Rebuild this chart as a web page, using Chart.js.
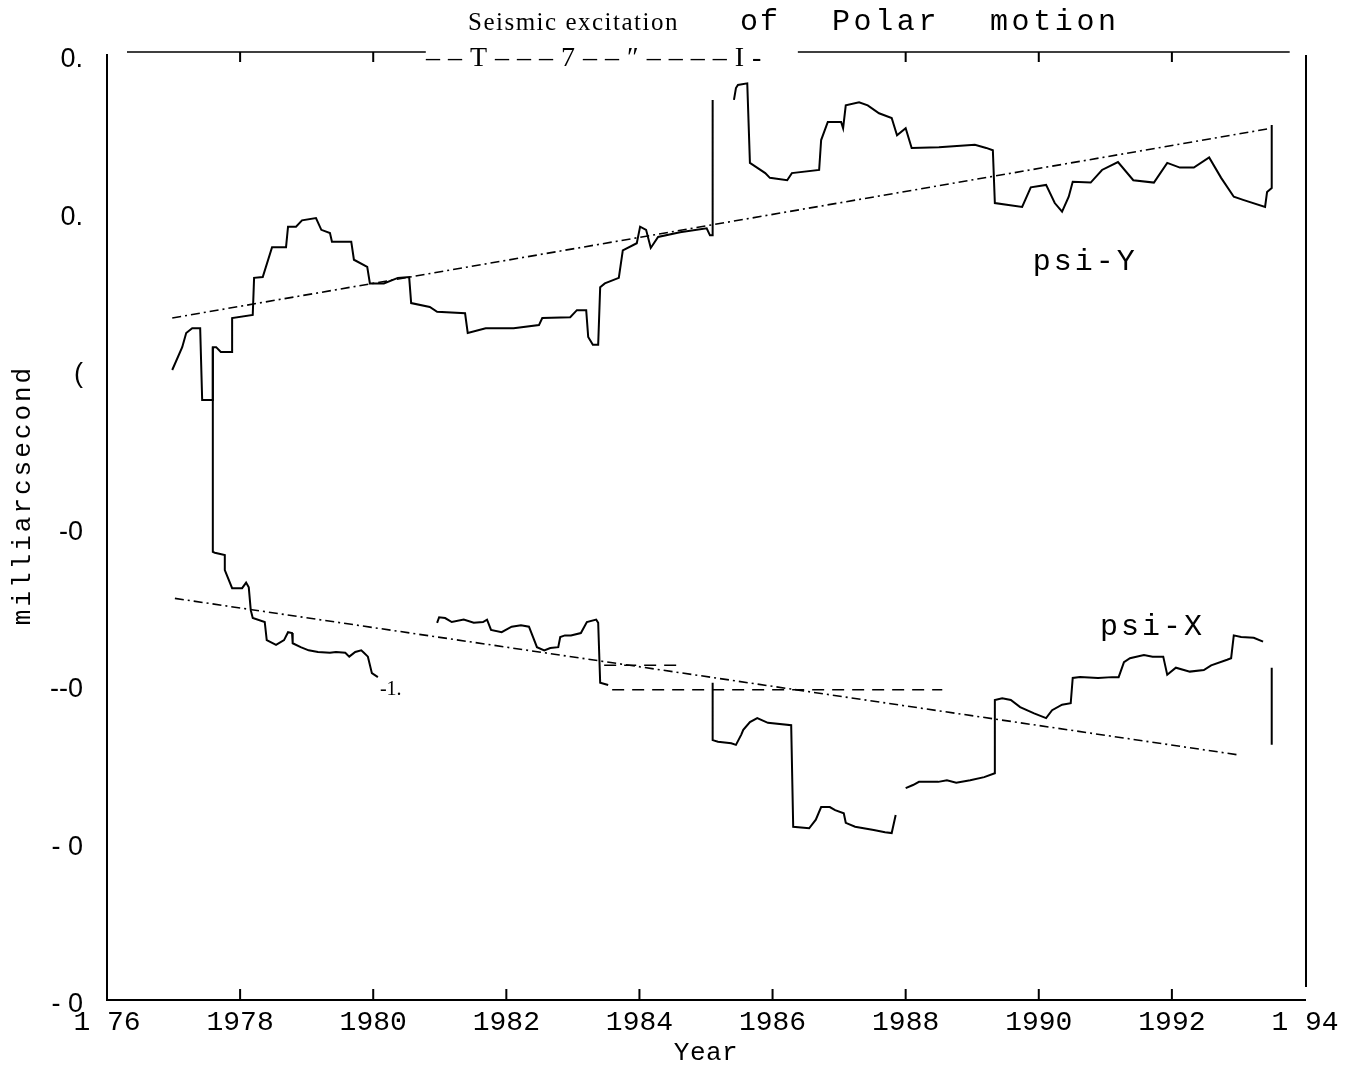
<!DOCTYPE html>
<html>
<head>
<meta charset="utf-8">
<title>Seismic excitation of Polar motion</title>
<script src="https://cdn.jsdelivr.net/npm/chart.js@4.4.1/dist/chart.umd.min.js"></script>
<style>
  html, body { margin: 0; padding: 0; background: #fff; }
  #wrap { width: 1364px; height: 1071px; }
</style>
</head>
<body>
<div id="wrap"><canvas id="polar" width="1364" height="1071"></canvas></div>
<script>
// tick labels as printed on the scan (partly garbled)
const xTickLabels = ['1 76', '1978', '1980', '1982', '1984', '1986', '1988', '1990', '1992', '1 94'];
const yTickLabels = ['0.', '0.', '(', '-0', '--0', '- 0', '- 0'];   // 0.4 down to -0.8

// psi-Y step curve (year, mas); null = pen lifted
const psiYYears = [
  1976.98, 1977.13, 1977.19, 1977.28, 1977.40, 1977.43, 1977.50, 1977.58, 1977.59, 1977.64,
  1977.71, 1977.88, 1977.88, 1978.19, 1978.21, 1978.34, 1978.48, 1978.69, 1978.72, 1978.84,
  1978.93, 1979.14, 1979.22, 1979.35, 1979.38, 1979.67, 1979.71, 1979.91, 1979.95, 1980.16,
  1980.37, 1980.54, 1980.57, 1980.85, 1980.96, 1981.38, 1981.42, 1981.69, 1982.11, 1982.49,
  1982.54, 1982.96, 1983.06, 1983.20, 1983.23, 1983.30, 1983.38, 1983.41, 1983.48, 1983.69,
  1983.75, 1983.96, 1984.01, 1984.10, 1984.17, 1984.28, 1984.61, 1985.01, 1985.06, 1985.10,
  1985.10, 1985.25, 1985.42, 1985.45, 1985.48, 1985.62, 1985.66, 1985.75, 1985.89, 1985.96,
  1986.22, 1986.29, 1986.70, 1986.73, 1986.83, 1987.03, 1987.06, 1987.10, 1987.30, 1987.43,
  1987.60, 1987.79, 1987.87, 1988.00, 1988.09, 1988.50, 1989.04, 1989.21, 1989.31, 1989.34,
  1989.75, 1989.88, 1990.11, 1990.24, 1990.35, 1990.45, 1990.51, 1990.78, 1990.95, 1991.19,
  1991.42, 1991.73, 1991.93, 1992.12, 1992.33, 1992.56, 1992.74, 1992.93, 1993.07, 1993.40,
  1993.43, 1993.50, 1993.50
];
const psiYValues = [
  0.000, 0.029, 0.047, 0.053, 0.053, -0.038, -0.038, -0.038, 0.029, 0.029,
  0.023, 0.023, 0.066, 0.070, 0.117, 0.118, 0.156, 0.156, 0.182, 0.182,
  0.190, 0.193, 0.178, 0.174, 0.163, 0.163, 0.140, 0.131, 0.110, 0.110,
  0.117, 0.118, 0.085, 0.080, 0.074, 0.072, 0.047, 0.053, 0.053, 0.057,
  0.066, 0.067, 0.076, 0.076, 0.042, 0.032, 0.032, 0.105, 0.110, 0.117,
  0.152, 0.161, 0.182, 0.178, 0.155, 0.169, 0.175, 0.180, 0.171, 0.171,
  0.343, null, 0.343, 0.358, 0.362, 0.364, 0.263, 0.258, 0.250, 0.244,
  0.241, 0.250, 0.254, 0.292, 0.315, 0.315, 0.307, 0.336, 0.340, 0.336,
  0.326, 0.320, 0.298, 0.307, 0.282, 0.283, 0.286, 0.282, 0.279, 0.212,
  0.207, 0.232, 0.235, 0.212, 0.201, 0.220, 0.239, 0.238, 0.254, 0.264,
  0.241, 0.238, 0.263, 0.257, 0.257, 0.270, 0.244, 0.220, 0.216, 0.207,
  0.226, 0.231, 0.311
];

// psi-X step curve
const psiXYears = [
  1977.59, 1977.59, 1977.62, 1977.77, 1977.77, 1977.88, 1978.03, 1978.09, 1978.13, 1978.16,
  1978.19, 1978.37, 1978.40, 1978.54, 1978.66, 1978.72, 1978.78, 1978.79, 1978.91, 1979.03,
  1979.17, 1979.35, 1979.44, 1979.58, 1979.64, 1979.73, 1979.82, 1979.86, 1979.92, 1979.98,
  1980.07, 1980.50, 1980.96, 1980.99, 1981.08, 1981.18, 1981.36, 1981.51, 1981.65, 1981.71,
  1981.77, 1981.93, 1982.08, 1982.22, 1982.34, 1982.40, 1982.46, 1982.57, 1982.66, 1982.78,
  1982.81, 1982.88, 1982.97, 1983.12, 1983.21, 1983.35, 1983.38, 1983.41, 1983.53, 1984.30,
  1985.10, 1985.10, 1985.18, 1985.38, 1985.45, 1985.53, 1985.56, 1985.66, 1985.77, 1985.93,
  1986.28, 1986.31, 1986.55, 1986.65, 1986.73, 1986.86, 1986.94, 1987.07, 1987.10, 1987.24,
  1987.52, 1987.69, 1987.79, 1987.85, 1987.92, 1988.00, 1988.11, 1988.20, 1988.49, 1988.62,
  1988.76, 1988.97, 1989.18, 1989.34, 1989.34, 1989.45, 1989.58, 1989.72, 1989.93, 1990.11,
  1990.20, 1990.35, 1990.48, 1990.51, 1990.62, 1990.89, 1991.10, 1991.20, 1991.28, 1991.37,
  1991.58, 1991.71, 1991.87, 1991.93, 1992.06, 1992.27, 1992.48, 1992.59, 1992.83, 1992.89,
  1992.93, 1993.04, 1993.23, 1993.37
];
const psiXValues = [
  0.029, -0.231, -0.232, -0.235, -0.254, -0.277, -0.277, -0.270, -0.276, -0.305,
  -0.315, -0.320, -0.343, -0.349, -0.343, -0.333, -0.334, -0.347, -0.352, -0.356,
  -0.358, -0.359, -0.358, -0.359, -0.364, -0.358, -0.356, -0.359, -0.364, -0.385,
  -0.390, null, -0.321, -0.314, -0.315, -0.320, -0.317, -0.321, -0.320, -0.317,
  -0.330, -0.333, -0.326, -0.324, -0.326, -0.339, -0.352, -0.356, -0.353, -0.352,
  -0.339, -0.337, -0.337, -0.334, -0.320, -0.317, -0.321, -0.397, -0.400, null,
  -0.397, -0.470, -0.472, -0.474, -0.476, -0.463, -0.457, -0.447, -0.442, -0.448,
  -0.451, -0.580, -0.582, -0.571, -0.555, -0.555, -0.559, -0.563, -0.575, -0.580,
  -0.584, -0.587, -0.588, -0.565, null, -0.531, -0.527, -0.523, -0.523, -0.521,
  -0.524, -0.521, -0.517, -0.512, -0.419, -0.417, -0.419, -0.428, -0.436, -0.442,
  -0.432, -0.425, -0.423, -0.391, -0.390, -0.391, -0.390, -0.390, -0.371, -0.366,
  -0.362, -0.364, -0.364, -0.387, -0.378, -0.383, -0.381, -0.375, -0.368, -0.366,
  -0.337, -0.339, -0.340, -0.345
];

// fitted trends (dash-dot)
const trendYYears = [1976.98, 1993.50];
const trendYValues = [0.066, 0.307];
const trendXYears = [1977.02, 1993.02];
const trendXValues = [-0.290, -0.489];

// broken dashed pieces near 1984-1988 and the end marker
const dashAYears = [1983.47, 1984.67];
const dashAValues = [-0.375, -0.375];
const dashBYears = [1983.59, 1988.55];
const dashBValues = [-0.406, -0.406];
const markYears = [1993.50, 1993.50];
const markValues = [-0.378, -0.476];

// in-plot labels
const labelTexts = ['psi-Y', 'psi-X', '-1.'];
const labelYears = [1989.91, 1990.92, 1980.10];
const labelValues = [0.137, -0.326, -0.406];

const pts = (xs, ys) => xs.map((x, i) => ({ x: x, y: ys[i] }));

const MONO = '"Liberation Mono", "DejaVu Sans Mono", monospace';
const SERIF = '"Liberation Serif", "DejaVu Serif", serif';
const SANS = '"Liberation Sans", Arial, sans-serif';

const framePlugin = {
  id: 'frame',
  afterDraw(chart) {
    const { ctx, chartArea: a, scales: { x, y } } = chart;
    ctx.save();
    ctx.strokeStyle = '#000';
    ctx.fillStyle = '#000';

    // top edge, broken where the printer garbled it
    const topY = a.top - 3;
    ctx.lineWidth = 1.5;
    ctx.beginPath();
    ctx.moveTo(x.getPixelForValue(1976.3), topY);
    ctx.lineTo(x.getPixelForValue(1980.79), topY);
    ctx.moveTo(x.getPixelForValue(1986.38), topY);
    ctx.lineTo(x.getPixelForValue(1993.77), topY);
    ctx.stroke();

    // right edge
    ctx.lineWidth = 2;
    ctx.beginPath();
    ctx.moveTo(a.right + 1, a.top);
    ctx.lineTo(a.right + 1, a.bottom - 13);
    ctx.stroke();

    // inward ticks
    ctx.beginPath();
    x.ticks.forEach(t => {
      if (t.value <= 1976 || t.value >= 1994) return;
      const px = x.getPixelForValue(t.value);
      ctx.moveTo(px, a.bottom);
      ctx.lineTo(px, a.bottom - 11);
      if (t.value < 1981 || t.value > 1986.5) {
        ctx.moveTo(px, topY);
        ctx.lineTo(px, topY + 10);
      }
    });
    ctx.stroke();

    // garbled glyphs on the top edge
    ctx.font = '28px ' + SERIF;
    ctx.letterSpacing = '8px';
    ctx.textAlign = 'left';
    ctx.textBaseline = 'alphabetic';
    ctx.fillText('––T–––7––″––––I-', 426, 66);

    // title
    ctx.font = '25px ' + SERIF;
    ctx.letterSpacing = '1.5px';
    ctx.fillText('Seismic excitation', 468, 30);
    ctx.font = '30px ' + MONO;
    ctx.letterSpacing = '2px';
    ctx.fillText('of', 740, 30);
    ctx.letterSpacing = '3.6px';
    ctx.fillText('Polar', 832, 30);
    ctx.fillText('motion', 990, 30);

    // axis titles
    ctx.font = '26px ' + MONO;
    ctx.letterSpacing = '0.5px';
    ctx.textAlign = 'center';
    ctx.fillText('Year', (a.left + a.right) / 2, 1060);
    ctx.save();
    ctx.translate(30, 495);
    ctx.rotate(-Math.PI / 2);
    ctx.letterSpacing = '3px';
    ctx.fillText('milliarcsecond', 0, 0);
    ctx.restore();

    // curve labels
    ctx.textAlign = 'left';
    ctx.textBaseline = 'middle';
    labelTexts.forEach((txt, i) => {
      if (txt === '-1.') {
        ctx.font = '20px ' + SERIF;
        ctx.letterSpacing = '0px';
      } else {
        ctx.font = '30px ' + MONO;
        ctx.letterSpacing = '3px';
      }
      ctx.fillText(txt, x.getPixelForValue(labelYears[i]), y.getPixelForValue(labelValues[i]));
    });
    ctx.restore();
  }
};

const solid = { borderColor: '#000', borderWidth: 2, pointRadius: 0, tension: 0, spanGaps: false, fill: false };
const dashDot = { borderColor: '#000', borderWidth: 1.6, pointRadius: 0, tension: 0, fill: false, borderDash: [9, 4, 2, 4] };
const dashed = { borderColor: '#000', borderWidth: 1.5, pointRadius: 0, tension: 0, fill: false, borderDash: [12, 8] };

new Chart(document.getElementById('polar'), {
  type: 'line',
  data: {
    datasets: [
      Object.assign({ label: 'psi-Y', data: pts(psiYYears, psiYValues) }, solid),
      Object.assign({ label: 'psi-X', data: pts(psiXYears, psiXValues) }, solid),
      Object.assign({ label: 'psi-Y trend', data: pts(trendYYears, trendYValues) }, dashDot),
      Object.assign({ label: 'psi-X trend', data: pts(trendXYears, trendXValues) }, dashDot),
      Object.assign({ label: 'dash a', data: pts(dashAYears, dashAValues) }, dashed),
      Object.assign({ label: 'dash b', data: pts(dashBYears, dashBValues) }, dashed),
      Object.assign({ label: 'marker', data: pts(markYears, markValues) }, solid)
    ]
  },
  options: {
    responsive: false,
    animation: false,
    layout: { padding: { top: 55, right: 59, left: 0, bottom: 0 } },
    plugins: {
      legend: { display: false },
      title: { display: false },
      tooltip: { enabled: false }
    },
    scales: {
      x: {
        type: 'linear',
        min: 1976,
        max: 1994,
        ticks: {
          stepSize: 2,
          autoSkip: false,
          maxRotation: 0,
          padding: 6,
          color: '#000',
          font: { family: MONO, size: 28 },
          callback: v => xTickLabels[Math.round((v - 1976) / 2)]
        },
        grid: { drawOnChartArea: false, drawTicks: false },
        border: { display: true, color: '#000', width: 2 },
        afterFit: s => { s.height = 71; }
      },
      y: {
        type: 'linear',
        min: -0.8,
        max: 0.4,
        ticks: {
          stepSize: 0.2,
          padding: 24,
          labelOffset: 5,
          color: '#000',
          font: { family: SANS, size: 27 },
          callback: v => yTickLabels[Math.round((0.4 - v) / 0.2)]
        },
        grid: { drawOnChartArea: false, drawTicks: false },
        border: { display: true, color: '#000', width: 2 },
        afterFit: s => { s.width = 107; }
      }
    }
  },
  plugins: [framePlugin]
});
</script>
</body>
</html>
